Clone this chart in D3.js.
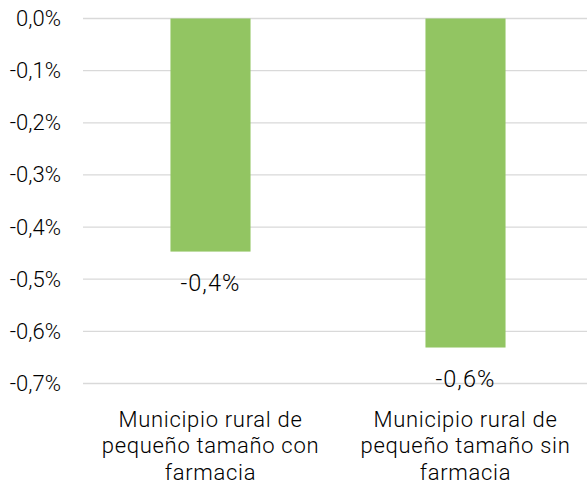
<!DOCTYPE html>
<html>
<head>
<meta charset="utf-8">
<script src="https://cdn.jsdelivr.net/npm/d3@7"></script>
<style>
  html, body { margin: 0; padding: 0; background: #fff; }
  svg text { font-family: Roboto, "Noto Sans", sans-serif; font-weight: 300; fill: #000; }
</style>
</head>
<body>
<svg id="chart" width="587" height="490"></svg>
<script>
// Variación por tipo de municipio
const categories = [
  ["Municipio rural de", "pequeño tamaño con", "farmacia"],
  ["Municipio rural de", "pequeño tamaño sin", "farmacia"]
];
const values = [-0.447, -0.631];
const tickValues = [0, -0.1, -0.2, -0.3, -0.4, -0.5, -0.6, -0.7];

const svg = d3.select("#chart");
const fmt = v => d3.format(".1f")(v).replace(".", ",").replace("−", "-") + "%";

const x = d3.scaleBand()
  .domain(d3.range(categories.length))
  .range([83, 593])
  .paddingInner(0.686)
  .paddingOuter(0.343);

const y = d3.scaleLinear()
  .domain([0, -0.7])
  .range([18.5, 383.5]);

// gridlines
svg.append("g")
  .selectAll("line")
  .data(tickValues)
  .join("line")
  .attr("x1", 83).attr("x2", 587)
  .attr("y1", d => y(d)).attr("y2", d => y(d))
  .attr("stroke", "#d9d9d9")
  .attr("stroke-width", 1.3);

// y axis labels
const yAxis = d3.axisLeft(y)
  .tickValues(tickValues)
  .tickFormat(d => fmt(d))
  .tickSize(0)
  .tickPadding(0);
const ya = svg.append("g").attr("transform", "translate(61,0)").call(yAxis);
ya.select(".domain").remove();
ya.selectAll("text")
  .attr("font-size", 22)
  .attr("fill", "#000")
  .style("font-family", "Roboto, 'Noto Sans', sans-serif")
  .style("font-weight", 300);

// bars
svg.append("g")
  .selectAll("rect")
  .data(values)
  .join("rect")
  .attr("x", (d, i) => x(i))
  .attr("width", x.bandwidth())
  .attr("y", y(0))
  .attr("height", d => y(d) - y(0))
  .attr("fill", "#92c562");

// value labels
svg.append("g")
  .selectAll("text")
  .data(values)
  .join("text")
  .attr("x", (d, i) => x(i) + x.bandwidth() / 2)
  .attr("y", d => y(d) + 39)
  .attr("text-anchor", "middle")
  .attr("font-size", 23.5)
  .attr("letter-spacing", 1.1)
  .text(d => fmt(d));

// category labels
const cat = svg.append("g")
  .selectAll("text")
  .data(categories)
  .join("text")
  .attr("text-anchor", "middle")
  .attr("font-size", 22)
  .attr("letter-spacing", 0.7);
cat.each(function(lines, i) {
  d3.select(this).selectAll("tspan")
    .data(lines)
    .join("tspan")
    .attr("x", x(i) + x.bandwidth() / 2)
    .attr("y", (l, j) => 426.5 + j * 26.5)
    .text(l => l);
});
</script>
</body>
</html>
